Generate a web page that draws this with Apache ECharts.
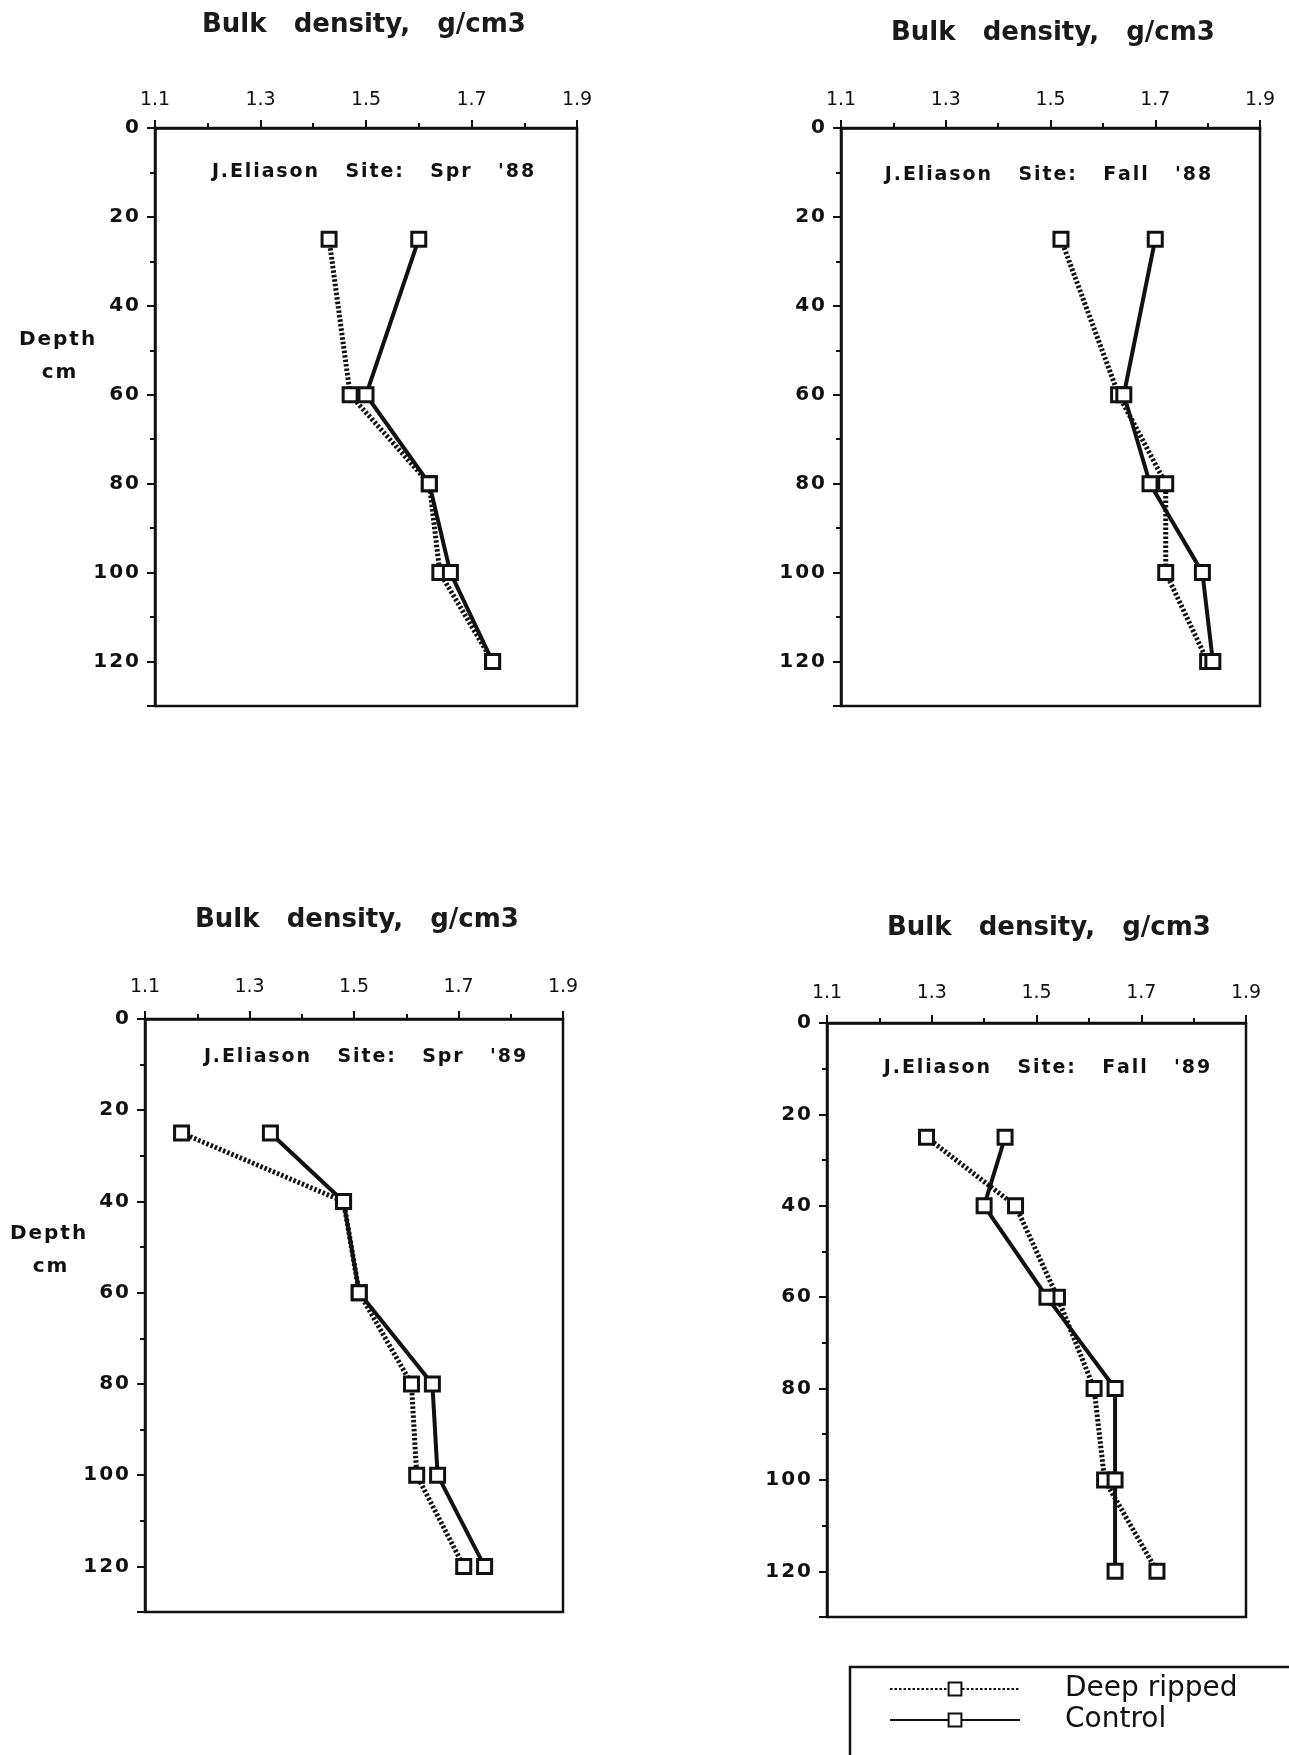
<!DOCTYPE html>
<html>
<head>
<meta charset="utf-8">
<title>Bulk density by depth</title>
<script src="https://cdn.jsdelivr.net/npm/echarts@6/dist/echarts.min.js"></script>
<style>
  html, body { margin: 0; padding: 0; background: #fff; }
  #chart { width: 1289px; height: 1755px; }
</style>
</head>
<body>
<div id="chart"></div>
<script>
// sample depths, cm
const depth88 = [25, 60, 80, 100, 120];
const depth89 = [25, 40, 60, 80, 100, 120];

// bulk density, g/cm3
const spr88Ripped = [1.43, 1.47, 1.62, 1.64, 1.74];
const spr88Control = [1.60, 1.50, 1.62, 1.66, 1.74];
const fall88Ripped = [1.52, 1.63, 1.72, 1.72, 1.80];
const fall88Control = [1.70, 1.64, 1.69, 1.79, 1.81];
const spr89Ripped = [1.17, 1.48, 1.51, 1.61, 1.62, 1.71];
const spr89Control = [1.34, 1.48, 1.51, 1.65, 1.66, 1.75];
const fall89Ripped = [1.29, 1.46, 1.54, 1.61, 1.63, 1.73];
const fall89Control = [1.44, 1.40, 1.52, 1.65, 1.65, 1.65];

// axis ticks
const densityTicks = [1.1, 1.3, 1.5, 1.7, 1.9];
const depthTicks = [0, 20, 40, 60, 80, 100, 120];
const depthMax = 130;

// texts
const seriesNames = ["Deep ripped", "Control"];
const axisTitle = "Bulk   density,   g/cm3";
const siteLabels = ["J.Eliason   Site:   Spr   '88", "J.Eliason   Site:   Fall   '88",
                    "J.Eliason   Site:   Spr   '89", "J.Eliason   Site:   Fall   '89"];

const panelDepths = [depth88, depth88, depth89, depth89];
const panelRipped = [spr88Ripped, fall88Ripped, spr89Ripped, fall89Ripped];
const panelControl = [spr88Control, fall88Control, spr89Control, fall89Control];

// where each little plot sits on the page
const panels = [
  { grid: { left: 155, top: 128, width: 422, height: 578 }, title: [364, 25], site: [373, 172], depth: [57, 340], xMargin: 18 },
  { grid: { left: 841, top: 128, width: 419, height: 578 }, title: [1053, 33], site: [1048, 175], depth: null, xMargin: 18 },
  { grid: { left: 145, top: 1019, width: 418, height: 593 }, title: [357, 920], site: [365, 1057], depth: [48, 1234], xMargin: 22 },
  { grid: { left: 827, top: 1023, width: 419, height: 594 }, title: [1049, 928], site: [1047, 1068], depth: null, xMargin: 20 }
];

const ink = "#111";
const font = "DejaVu Sans";

function spread(str) {
  // loose letter spacing like the old plotter lettering
  return String(str).split("").join("\u200A");
}

const grids = [];
const xAxes = [];
const yAxes = [];
const series = [];
const graphics = [];

panels.forEach(function (p, i) {
  grids.push(Object.assign({ show: true, borderColor: ink, borderWidth: 2.5, backgroundColor: "transparent" }, p.grid));

  xAxes.push({
    gridIndex: i,
    type: "value",
    position: "top",
    min: densityTicks[0],
    max: densityTicks[densityTicks.length - 1],
    interval: Math.round((densityTicks[1] - densityTicks[0]) * 10) / 10,
    axisLine: { show: true, lineStyle: { color: ink, width: 2.5 } },
    axisTick: { show: true, length: 8, lineStyle: { color: ink, width: 2 } },
    minorTick: { show: true, splitNumber: 2, length: 5, lineStyle: { color: ink, width: 2 } },
    splitLine: { show: false },
    axisLabel: {
      margin: p.xMargin,
      fontSize: 19,
      fontFamily: font,
      color: ink,
      formatter: function (v) { return Number(v).toFixed(1); }
    }
  });

  yAxes.push({
    gridIndex: i,
    type: "value",
    inverse: true,
    min: depthTicks[0],
    max: depthMax,
    interval: depthTicks[1] - depthTicks[0],
    axisLine: { show: true, lineStyle: { color: ink, width: 2.5 } },
    axisTick: { show: true, length: 8, lineStyle: { color: ink, width: 2 } },
    minorTick: { show: true, splitNumber: 2, length: 5, lineStyle: { color: ink, width: 2 } },
    splitLine: { show: false },
    axisLabel: {
      margin: 16,
      fontSize: 20,
      fontWeight: "bold",
      fontFamily: font,
      color: ink,
      formatter: function (v) { return depthTicks.indexOf(v) >= 0 ? spread(v) : ""; }
    }
  });

  const depths = panelDepths[i];
  series.push({
    name: seriesNames[0],
    type: "line",
    xAxisIndex: i,
    yAxisIndex: i,
    data: panelRipped[i].map(function (v, k) { return [v, depths[k]]; }),
    symbol: "rect",
    symbolSize: 14,
    lineStyle: { color: ink, width: 5, type: [2.5, 2] },
    itemStyle: { color: "#fff", borderColor: ink, borderWidth: 3 },
    z: 3
  });
  series.push({
    name: seriesNames[1],
    type: "line",
    xAxisIndex: i,
    yAxisIndex: i,
    data: panelControl[i].map(function (v, k) { return [v, depths[k]]; }),
    symbol: "rect",
    symbolSize: 14,
    lineStyle: { color: ink, width: 4 },
    itemStyle: { color: "#fff", borderColor: ink, borderWidth: 3 },
    z: 4
  });

  graphics.push({
    type: "text", x: p.title[0], y: p.title[1],
    style: { text: axisTitle, align: "center", verticalAlign: "middle", fontSize: 26, fontWeight: "bold", fontFamily: font, fill: "#1a1a1a" }
  });
  graphics.push({
    type: "text", x: p.site[0], y: p.site[1],
    style: { text: spread(siteLabels[i]), align: "center", verticalAlign: "middle", fontSize: 19, fontWeight: "bold", fontFamily: font, fill: ink }
  });
  if (p.depth) {
    graphics.push({
      type: "text", x: p.depth[0], y: p.depth[1],
      style: { text: spread("Depth"), align: "center", verticalAlign: "middle", fontSize: 20, fontWeight: "bold", fontFamily: font, fill: ink }
    });
    graphics.push({
      type: "text", x: p.depth[0] + 2, y: p.depth[1] + 33,
      style: { text: spread("cm"), align: "center", verticalAlign: "middle", fontSize: 20, fontWeight: "bold", fontFamily: font, fill: ink }
    });
  }
});

// legend frame, runs off the page edge like the scan
graphics.push({
  type: "rect", z: -1,
  shape: { x: 850, y: 1667, width: 500, height: 150 },
  style: { fill: "none", stroke: ink, lineWidth: 2.5 }
});

const option = {
  animation: false,
  backgroundColor: "#fff",
  grid: grids,
  xAxis: xAxes,
  yAxis: yAxes,
  series: series,
  graphic: graphics,
  legend: {
    data: seriesNames,
    orient: "vertical",
    left: 884,
    top: 1670,
    itemWidth: 130,
    itemHeight: 16,
    itemGap: 3,
    selectedMode: false,
    textStyle: { fontSize: 28, fontFamily: font, color: ink, padding: [0, 0, 0, 40] }
  }
};

const chart = echarts.init(document.getElementById("chart"));
chart.setOption(option);
</script>
</body>
</html>
